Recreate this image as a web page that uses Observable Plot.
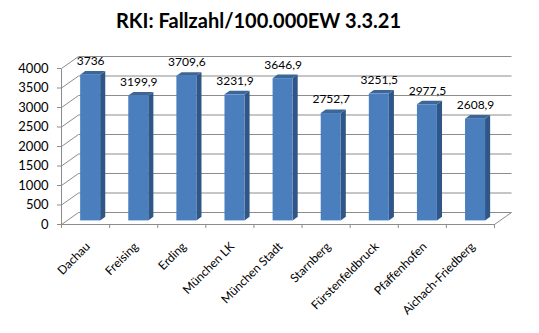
<!DOCTYPE html>
<html><head><meta charset="utf-8">
<script src="https://cdn.jsdelivr.net/npm/d3@7"></script>
<script src="https://cdn.jsdelivr.net/npm/@observablehq/plot@0.6"></script>
<style>
body{margin:0;background:#fff}
#wrap{position:relative;width:539px;height:333px;background:#fff}
#title{position:absolute;left:0;top:8px;width:517px;text-align:center;font:bold 20px/24px Lato;color:#000;z-index:2}
#chart{position:absolute;left:0;top:0}
</style>
</head><body>
<div id="wrap"><div id="title">RKI: Fallzahl/100.000EW 3.3.21</div><div id="chart"></div></div>
<script>
const categories = ["Dachau","Freising","Erding","München LK","München Stadt","Starnberg","Fürstenfeldbruck","Pfaffenhofen","Aichach-Friedberg"];
const values = [3736, 3199.9, 3709.6, 3231.9, 3646.9, 2752.7, 3251.5, 2977.5, 2608.9];
const valueLabels = values.map(v => String(v).replace(".", ","));
const yTicks = [0, 500, 1000, 1500, 2000, 2500, 3000, 3500, 4000];

// layout / 3D geometry (pixels)
const W = 539, H = 333, ML = 61, MR = 45, MT = 68, MB = 109;
const N = categories.length, YMAX = 4000;
const PXX = (W - ML - MR) / N, PXY = (H - MT - MB) / YMAX;
const DEPTH = [17, -12];           // full depth of the box, in pixels
const F = 0.3, B = 0.6;            // bar front / back planes (fraction of depth)
const HW = 10 / PXX;               // half bar width in category units
function P(xu, yu, dz) { return {x: xu + DEPTH[0] * dz / PXX, y: yu - DEPTH[1] * dz / PXY}; }

const bars = categories.map((name, i) => ({name, i, c: i + 0.5, v: values[i], label: valueLabels[i]}));

const sideRows = bars.flatMap(d => {
  const R = d.c + HW;
  return [F, B].map(z => ({bar: d.i, x: P(R, 0, z).x, y1: P(R, 0, z).y, y2: P(R, d.v, z).y}));
});
const topRows = bars.flatMap(d => {
  const L = d.c - HW, R = d.c + HW;
  const yf = P(0, d.v, F).y, yb = P(0, d.v, B).y;
  return [
    {bar: d.i, x: P(L, 0, F).x, y1: yf, y2: yf},
    {bar: d.i, x: P(L, 0, B).x, y1: yf, y2: yb},
    {bar: d.i, x: P(R, 0, F).x, y1: yf, y2: yb},
    {bar: d.i, x: P(R, 0, B).x, y1: yb, y2: yb}
  ];
});

const grid = "#8c8c8c";
const plot = Plot.plot({
  width: W, height: H,
  marginLeft: ML, marginRight: MR, marginTop: MT, marginBottom: MB,
  x: {domain: [0, N]},
  y: {domain: [0, YMAX]},
  style: {fontFamily: "Lato", fontSize: "12px", color: "#000", background: "transparent"},
  marks: [
    // back wall gridlines
    Plot.link(yTicks, {x1: t => P(0, t, 1).x, y1: t => P(0, t, 1).y, x2: t => P(N, t, 1).x, y2: t => P(N, t, 1).y, stroke: grid}),
    // side wall diagonals
    Plot.link(yTicks, {x1: t => P(0, t, 0).x, y1: t => P(0, t, 0).y, x2: t => P(0, t, 1).x, y2: t => P(0, t, 1).y, stroke: grid}),
    // floor right edge
    Plot.link([0], {x1: t => P(N, t, 0).x, y1: t => P(N, t, 0).y, x2: t => P(N, t, 1).x, y2: t => P(N, t, 1).y, stroke: grid}),
    // floor front edge
    Plot.link([0], {x1: t => P(0, t, 0).x, y1: t => P(0, t, 0).y, x2: t => P(N, t, 0).x, y2: t => P(N, t, 0).y, stroke: grid}),
    // left axis line
    Plot.link([0], {x1: t => P(0, t, 0).x, y1: t => P(0, t, 0).y, x2: t => P(0, YMAX, 0).x, y2: t => P(0, YMAX, 0).y, stroke: grid}),
    // bars: side, top, front
    Plot.area(sideRows, {x1: "x", y1: "y1", y2: "y2", z: "bar", fill: "#2f5687"}),
    Plot.area(topRows, {x1: "x", y1: "y1", y2: "y2", z: "bar", fill: "#3b6699"}),
    Plot.rect(bars, {x1: d => P(d.c - HW, 0, F).x, x2: d => P(d.c + HW, 0, F).x, y1: d => P(0, 0, F).y, y2: d => P(0, d.v, F).y, fill: "#4a7ebd"}),
    // axes
    Plot.axisX(d3.range(N + 1), {tickSize: 4, tickFormat: () => "", stroke: grid, label: null}),
    Plot.axisY(yTicks, {tickSize: 4, tickPadding: 9, tickFormat: d => String(d), stroke: grid, fill: "#000", fontSize: 13, label: null}),
    // value labels
    Plot.text(bars, {x: d => P(d.c, d.v, F).x, y: d => P(d.c, d.v, F).y, text: "label", dy: -14, fill: "#000"}),
    // category labels
    Plot.text(bars, {x: "c", y: 0, text: "name", rotate: -45, textAnchor: "end", dx: 2.5, dy: 20, fill: "#000"})
  ]
});
document.getElementById("chart").appendChild(plot);
</script>
</body></html>
